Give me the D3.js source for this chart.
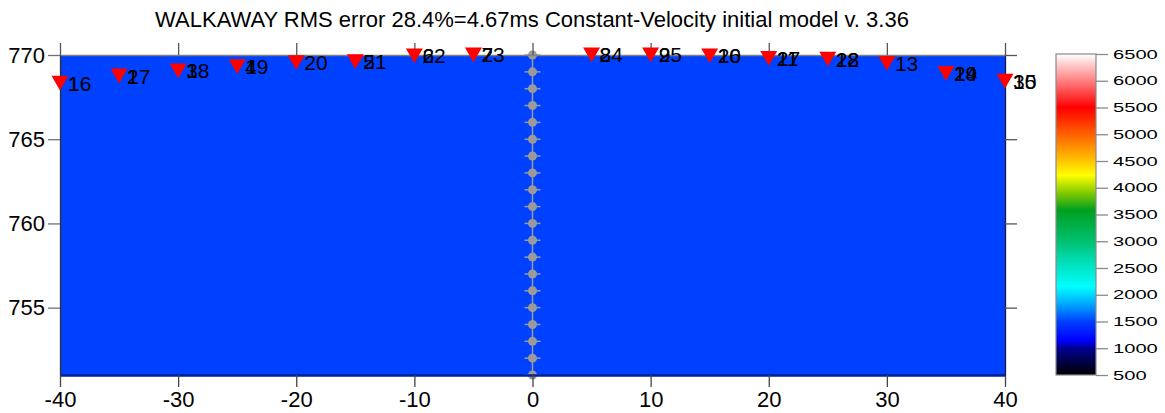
<!DOCTYPE html>
<html lang="en">
<head>
<meta charset="utf-8">
<title>Walkaway model</title>
<script src="https://cdn.jsdelivr.net/npm/d3@7"></script>
<style>
  body { margin: 0; background: #fff; }
  text { font-family: "Liberation Sans", Arial, sans-serif; }
</style>
</head>
<body>
<script>
// ---- data ----
var title = "WALKAWAY RMS error 28.4%=4.67ms Constant-Velocity initial model v. 3.36";
var modelVelocity = 1500;            // constant velocity model (m/s)
var shotX = [-40, -35, -30, -25, -20, -15, -10, -5, 5, 10, 15, 20, 25, 30, 35, 40];
var shotZ = [768.48, 768.9, 769.2, 769.45, 769.7, 769.75, 770.1, 770.15, 770.15, 770.15, 770.1, 769.95, 769.9, 769.65, 769.05, 768.6];
var shotLabelsA = ["1", "2", "3", "4", "", "5", "6", "7", "8", "9", "10", "11", "12", "13", "14", "15"];
var shotLabelsB = ["16", "17", "18", "19", "20", "21", "22", "23", "24", "25", "26", "27", "28", "", "29", "30"];
var receiverX = 0;
var receiverZ = [770, 769, 768, 767, 766, 765, 764, 763, 762, 761, 760, 759, 758, 757, 756, 755, 754, 753, 752, 751];
var xTicks = [-40, -30, -20, -10, 0, 10, 20, 30, 40];
var yTicks = [755, 760, 765, 770];
var velTicks = [500, 1000, 1500, 2000, 2500, 3000, 3500, 4000, 4500, 5000, 5500, 6000, 6500];
var colorStops = [500, 1000, 1150, 1500, 1800, 2150, 2700, 3000, 3580, 3900, 4230, 4600, 5000, 5500, 6000, 6500];
var colorValues = ["#000000", "#000090", "#0000ff", "#0040ff", "#00a0ff", "#00ffff", "#00d8a8", "#00c070", "#00a020",
                   "#80c800", "#ffff00", "#ffb000", "#ff6000", "#ff0000", "#ff8080", "#ffffff"];

var W = 1165, H = 413;
var svg = d3.select("body").append("svg").attr("width", W).attr("height", H);

var x = d3.scaleLinear().domain([-40, 40]).range([60, 1005]);
var y = d3.scaleLinear().domain([751, 770]).range([375, 55]);
var color = d3.scaleLinear().domain(colorStops).range(colorValues);
var plain = function(d) { return String(d); };   // hyphen minus, not U+2212

// title
svg.append("text")
  .attr("x", 532).attr("y", 27)
  .attr("text-anchor", "middle")
  .style("font-size", "22px")
  .text(title);

// model (constant velocity)
svg.append("rect")
  .attr("x", x(-40)).attr("y", y(770))
  .attr("width", x(40) - x(-40)).attr("height", y(751) - y(770))
  .attr("fill", color(modelVelocity));

// receivers in borehole
svg.append("line")
  .attr("x1", x(receiverX)).attr("x2", x(receiverX))
  .attr("y1", y(d3.max(receiverZ))).attr("y2", y(d3.min(receiverZ)))
  .attr("stroke", "#9a9a9a").attr("stroke-width", 1.5);
var rec = svg.append("g").selectAll("g").data(receiverZ).enter().append("g")
  .attr("transform", function(d) { return "translate(" + x(receiverX) + "," + y(d) + ")"; });
rec.append("line").attr("x1", -8).attr("x2", 8).attr("stroke", "#9a9a9a").attr("stroke-width", 1.5);
rec.append("circle").attr("r", 4.5).attr("fill", "#9a9a9a");

// axes
function styleAxis(g, domainColor, tickColor, domainWidth) {
  g.select(".domain").attr("stroke", domainColor).attr("stroke-width", domainWidth || 1.3);
  g.selectAll(".tick line").attr("stroke", tickColor).attr("stroke-width", 1.3);
  g.selectAll(".tick text").style("font-size", "22px").attr("fill", "#000")
    .style("font-family", "'Liberation Sans', Arial, sans-serif");
}
svg.append("g").attr("transform", "translate(0," + y(770) + ")")
  .call(d3.axisTop(x).tickValues(xTicks).tickSize(12).tickSizeOuter(0).tickFormat(""))
  .call(styleAxis, "#808080", "#555");
svg.append("g").attr("transform", "translate(0," + y(751) + ")")
  .call(d3.axisBottom(x).tickValues(xTicks).tickSize(12).tickSizeOuter(0).tickPadding(4).tickFormat(plain))
  .call(styleAxis, "#00209a", "#444", 2.5);
svg.append("g").attr("transform", "translate(" + x(-40) + ",0)")
  .call(d3.axisLeft(y).tickValues(yTicks).tickSize(12).tickSizeOuter(0).tickPadding(3).tickFormat(plain))
  .call(styleAxis, "#303030", "#707070");
svg.append("g").attr("transform", "translate(" + x(40) + ",0)")
  .call(d3.axisRight(y).tickValues(yTicks).tickSize(12).tickSizeOuter(0).tickFormat(""))
  .call(styleAxis, "#1a1a40", "#555");

// shots
var tri = d3.symbol().type(d3.symbolTriangle).size(125);
var shots = svg.append("g").selectAll("g").data(shotX).enter().append("g")
  .attr("transform", function(d, i) { return "translate(" + x(d) + "," + y(shotZ[i]) + ")"; });
shots.append("path").attr("d", tri).attr("transform", "rotate(180)").attr("fill", "#ff0000");
shots.append("text").attr("x", 8).attr("y", 10).style("font-size", "21px")
  .text(function(d, i) { return shotLabelsA[i]; });
shots.append("text").attr("x", 8).attr("y", 10).style("font-size", "21px")
  .text(function(d, i) { return shotLabelsB[i]; });

// colour bar
var cb = d3.scaleLinear().domain([500, 6500]).range([375, 54]);
var defs = svg.append("defs");
var grad = defs.append("linearGradient").attr("id", "vgrad")
  .attr("x1", "0").attr("y1", "1").attr("x2", "0").attr("y2", "0");
grad.selectAll("stop").data(colorStops).enter().append("stop")
  .attr("offset", function(d) { return (d - 500) / 6000; })
  .attr("stop-color", function(d, i) { return colorValues[i]; });
svg.append("rect")
  .attr("x", 1056).attr("y", cb(6500)).attr("width", 40).attr("height", cb(500) - cb(6500))
  .attr("fill", "url(#vgrad)").attr("stroke", "#8a8a8a").attr("stroke-width", 1.2);
var cbAxis = svg.append("g").attr("transform", "translate(1096,0)")
  .call(d3.axisRight(cb).tickValues(velTicks).tickSize(12).tickSizeOuter(0).tickPadding(5).tickFormat(plain));
cbAxis.select(".domain").remove();
cbAxis.selectAll(".tick line").attr("stroke", "#8a8a8a").attr("stroke-width", 1.3);
cbAxis.selectAll(".tick text").style("font-size", "13px").attr("fill", "#000")
  .attr("textLength", function(d) { return String(d).length * 11.2; })
  .attr("lengthAdjust", "spacingAndGlyphs");
</script>
</body>
</html>
